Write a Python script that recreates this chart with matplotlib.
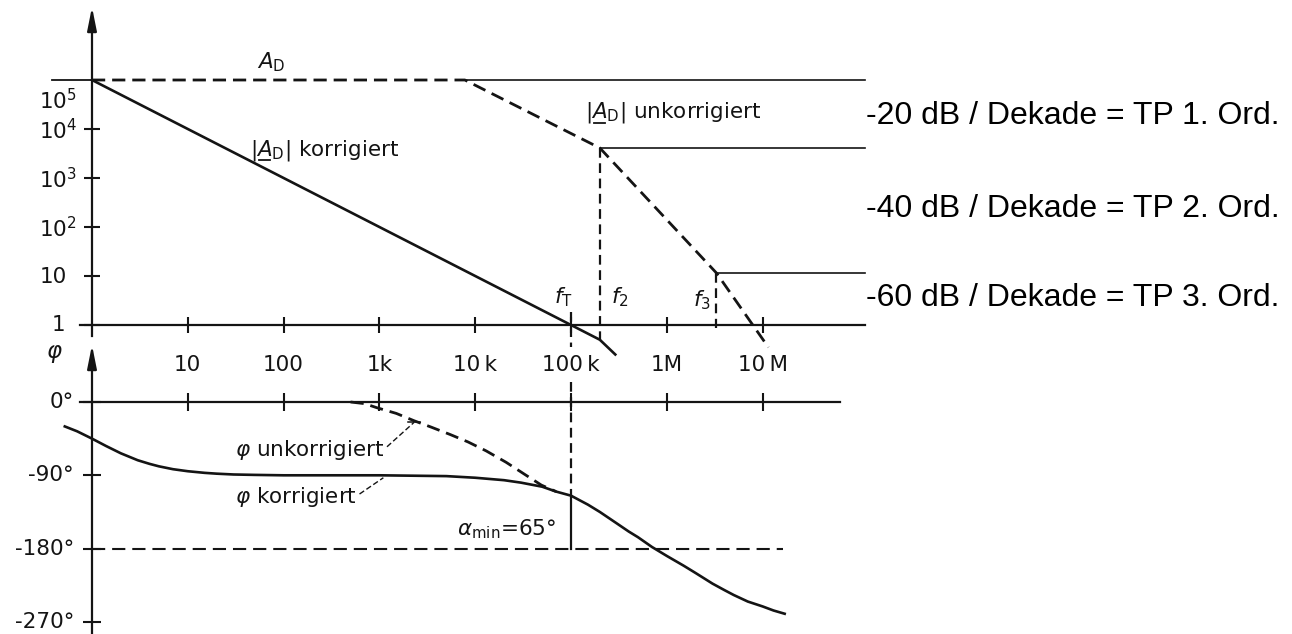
import matplotlib
matplotlib.use("Agg")
import matplotlib.pyplot as plt
from matplotlib.ticker import NullLocator
from matplotlib.transforms import ScaledTranslation

plt.rcParams.update({
    "font.family": "DejaVu Sans",
    "mathtext.fontset": "dejavusans",
    "lines.scale_dashes": False,
    "axes.unicode_minus": False,
})

# ---------------- data ----------------
freq_ticks = [1e1, 1e2, 1e3, 1e4, 1e5, 1e6, 1e7]
freq_labels = ["10", "100", "1k", "10\u2009k", "100\u2009k", "1M", "10\u2009M"]

mag_ticks = [1, 1e1, 1e2, 1e3, 1e4]
mag_labels = ["1", "10", r"$\mathregular{10^2}$", r"$\mathregular{10^3}$",
              r"$\mathregular{10^4}$"]
A_D = 1e5
A_D_label = r"$\mathregular{10^5}$"

phase_ticks = [0, -90, -180, -270]
phase_labels = ["0°", "-90°", "-180°", "-270°"]

# corner / transit frequencies and open-loop gain at the corners
f_1 = 7.8e3
f_T = 1e5
f_2 = 2.0e5
f_3 = 3.3e6
A_f2 = 4.1e3
A_f3 = 11.5

# |A_D| uncompensated (asymptotes, dashed)
mag_unc_f = [1, f_1, f_2, f_3, 1.15e7]
mag_unc_A = [A_D, A_D, A_f2, A_f3, 0.35]

# |A_D| compensated (solid)
mag_cor_f = [1, f_T, f_2, 2.9e5]
mag_cor_A = [A_D, 1, 0.5, 0.25]

# phase, compensated (solid)
ph_cor_f = [0.52, 0.7, 1, 1.4, 2, 3, 4, 5, 7, 10, 15, 20, 30, 50, 100,
            1e3, 5e3, 1e4, 2e4, 3e4, 5e4, 7e4, 1e5, 1.5e5, 2e5, 3e5, 4e5,
            5e5, 7e5, 1e6, 1.5e6, 2e6, 3e6, 4e6, 5e6, 7e6, 1e7, 1.3e7, 1.7e7]
ph_cor = [-30, -36, -45, -54, -63, -71.5, -76, -79, -82.5, -85, -87, -88,
          -89, -89.5, -90, -90, -91, -93, -96, -99, -104, -110, -115, -126,
          -135, -149, -159, -166, -178, -189, -201, -210, -223, -231, -237,
          -245, -251, -256, -260]

# phase, uncompensated (dashed)
ph_unc_f = [5e2, 7e2, 9.4e2, 1.5e3, 2.3e3, 3.5e3, 5.5e3, 8.4e3, 1.3e4,
            2.1e4, 3.3e4, 4.9e4, 7e4]
ph_unc = [0, -2, -7, -14, -23, -31, -40, -49, -60, -74, -89, -102, -110]

phase_margin = 65
phi_at_fT = -180 + phase_margin

slope_notes = ["-20 dB / Dekade = TP 1. Ord.",
               "-40 dB / Dekade = TP 2. Ord.",
               "-60 dB / Dekade = TP 3. Ord."]

# ---------------- layout ----------------
W, H, DPI = 1292, 634, 100
X_F1 = 92          # pixel column of f = 1 Hz
PX_DEC = 95.8      # pixels per frequency decade
Y_A1 = 325         # pixel row of |A| = 1
PX_DEC_A = 49      # pixels per gain decade
Y_PH0 = 402        # pixel row of phi = 0
PX_DEG = 73.3 / 90 # pixels per degree

ink = "#141414"
FS = 15.5
AD_TEX = r"$|A_{\rm D}|$"

fig = plt.figure(figsize=(W / DPI, H / DPI), dpi=DPI)
fig.patch.set_facecolor("white")


def offset_segment(ax, x, y, p0, p1, lw=1.3):
    """Short stroke given by pixel offsets (p0, p1) from a data anchor."""
    inv = ax.transData.inverted()
    pts = []
    for dx, dy in (p0, p1):
        t = ax.transData + ScaledTranslation(dx / DPI, dy / DPI, fig.dpi_scale_trans)
        pts.append(inv.transform(t.transform((x, y))))
    ax.plot([pts[0][0], pts[1][0]], [pts[0][1], pts[1][1]], color=ink, lw=lw,
            clip_on=False)


ax_m = fig.add_axes([0, 0, 1, 1])
ax_p = fig.add_axes([0, 0, 1, 1])
for ax in (ax_m, ax_p):
    ax.set_xscale("log")
    ax.set_xlim(10 ** (-X_F1 / PX_DEC), 10 ** ((W - X_F1) / PX_DEC))
    ax.patch.set_alpha(0)
    for s in ("top", "right"):
        ax.spines[s].set_visible(False)
    ax.xaxis.set_minor_locator(NullLocator())
    ax.yaxis.set_minor_locator(NullLocator())

ax_m.set_yscale("log")
ax_m.set_ylim(10 ** (-(H - Y_A1) / PX_DEC_A), 10 ** (Y_A1 / PX_DEC_A))
ax_p.set_ylim(-(H - Y_PH0) / PX_DEG, Y_PH0 / PX_DEG)

f_left = 10 ** (-12 / PX_DEC)
f_right = 10 ** (773 / PX_DEC)
f_ph_right = 10 ** (748 / PX_DEC)

# ---- magnitude axes ----
ax_m.spines["left"].set_position(("data", 1))
ax_m.spines["bottom"].set_position(("data", 1))
ax_m.spines["left"].set_bounds(10 ** (-11 / PX_DEC_A), 10 ** (300 / PX_DEC_A))
ax_m.spines["bottom"].set_bounds(f_left, f_right)
for s in ("left", "bottom"):
    ax_m.spines[s].set_linewidth(1.6)
    ax_m.spines[s].set_color(ink)
ax_m.set_xticks(freq_ticks)
ax_m.set_xticklabels([])
ax_m.set_yticks(mag_ticks)
ax_m.set_yticklabels([])
ax_m.tick_params(direction="inout", length=12, width=1.5, color=ink)
ax_m.annotate("", xy=(1, 10 ** (318 / PX_DEC_A)), xytext=(1, 10 ** (298 / PX_DEC_A)),
              arrowprops=dict(arrowstyle="-|>,head_length=1.4,head_width=0.28",
                              color=ink, lw=1.6, shrinkA=0, shrinkB=0,
                              mutation_scale=10))

# frequency labels between the two diagrams
for f, lab in zip(freq_ticks, freq_labels):
    ax_m.annotate(lab, xy=(f, 1), xytext=(0, -29), textcoords="offset points",
                  ha="center", va="center", fontsize=FS, color=ink)
# gain labels
for a, lab in zip(mag_ticks, mag_labels):
    if lab == "1":
        ax_m.annotate(lab, xy=(1, a), xytext=(-19, 0), textcoords="offset points",
                      ha="right", va="center", fontsize=FS, color=ink)
    else:
        ax_m.annotate(lab, xy=(1, a), xytext=(-38, -1), textcoords="offset points",
                      ha="left", va="center", fontsize=FS, color=ink)
ax_m.annotate(A_D_label, xy=(1, A_D), xytext=(-38, -15), textcoords="offset points",
              ha="left", va="center", fontsize=FS, color=ink)

# A_D reference line (solid where it is not part of the dashed curve)
ax_m.plot([10 ** (-40 / PX_DEC), 1], [A_D, A_D], color=ink, lw=1.3)
ax_m.plot([f_1, f_right], [A_D, A_D], color=ink, lw=1.2, clip_on=False)
ax_m.plot([f_2, f_right], [A_f2, A_f2], color=ink, lw=1.2)
ax_m.plot([f_3, f_right], [A_f3, A_f3], color=ink, lw=1.2)

dash = (0, (9.5, 5))
ax_m.plot(mag_unc_f, mag_unc_A, color=ink, lw=2.0, ls=dash, clip_on=False)
ax_m.plot(mag_cor_f, mag_cor_A, color=ink, lw=1.9, clip_on=False)

vdash = (0, (7, 4))
ax_m.plot([f_2, f_2], [A_f2, 0.5], color=ink, lw=1.6, ls=vdash)
ax_m.plot([f_3, f_3], [A_f3, 0.87], color=ink, lw=1.6, ls=vdash)
ax_m.plot([f_T, f_T], [1.8, 0.35], color=ink, lw=1.6, ls=vdash)

ax_m.text(75, 2.3e5, r"$A_{\rm D}$", fontsize=FS, ha="center", va="center", color=ink)
label_spots = [(45, 10 ** 3.57, " korrigiert"), (1.4e5, 10 ** 4.33, " unkorrigiert")]
for fx, ay, word in label_spots:
    ax_m.text(fx, ay, AD_TEX + word, fontsize=FS, ha="left", va="center", color=ink)
    offset_segment(ax_m, fx, ay, (9, -10), (20, -10))
ax_m.text(8.3e4, 10 ** 0.57, r"$f_{\rm T}$", fontsize=FS, ha="center", va="center", color=ink)
ax_m.text(3.2e5, 10 ** 0.57, r"$f_2$", fontsize=FS, ha="center", va="center", color=ink)
ax_m.text(2.3e6, 10 ** 0.5, r"$f_3$", fontsize=FS, ha="center", va="center", color=ink)

# ---- phase axes ----
ax_p.spines["left"].set_position(("data", 1))
ax_p.spines["bottom"].set_position(("data", 0))
ax_p.spines["left"].set_bounds(-300, 50)
ax_p.spines["bottom"].set_bounds(f_left, f_ph_right)
for s in ("left", "bottom"):
    ax_p.spines[s].set_linewidth(1.6)
    ax_p.spines[s].set_color(ink)
ax_p.set_xticks(freq_ticks)
ax_p.set_xticklabels([])
ax_p.set_yticks(phase_ticks)
ax_p.set_yticklabels([])
ax_p.tick_params(direction="inout", length=13, width=1.5, color=ink)
ax_p.annotate("", xy=(1, 70), xytext=(1, 46),
              arrowprops=dict(arrowstyle="-|>,head_length=1.4,head_width=0.28",
                              color=ink, lw=1.6, shrinkA=0, shrinkB=0,
                              mutation_scale=10))
ax_p.text(0.41, 60, r"$\varphi$", fontsize=FS + 1, ha="center", va="center",
          color=ink)
for p, lab in zip(phase_ticks, phase_labels):
    ax_p.annotate(lab, xy=(1, p), xytext=(-13, 0), textcoords="offset points",
                  ha="right", va="center", fontsize=FS, color=ink)

ax_p.plot([1, 10 ** (691 / PX_DEC)], [-180, -180], color=ink, lw=1.5, ls=dash)
ax_p.plot(ph_unc_f, ph_unc, color=ink, lw=2.0, ls=dash)
ax_p.plot(ph_cor_f, ph_cor, color=ink, lw=1.9, clip_on=False)

ax_p.plot([f_T, f_T], [25, phi_at_fT], color=ink, lw=1.6, ls=vdash)
ax_p.plot([f_T, f_T], [phi_at_fT, -180], color=ink, lw=1.6)
ax_p.text(6.5e3, -156, r"$\alpha_{\rm min}$=%d°" % phase_margin, fontsize=FS,
          ha="left", va="center", color=ink)

ax_p.text(31, -59, r"$\varphi$ unkorrigiert", fontsize=FS, ha="left", va="center",
          color=ink)
ax_p.text(31, -117, r"$\varphi$ korrigiert", fontsize=FS, ha="left", va="center",
          color=ink)
ax_p.plot([1.2e3, 2.3e3], [-55, -25], color=ink, lw=1.0, ls=(0, (4, 2)))
offset_segment(ax_p, 2.3e3, -25, (-6, 0), (6, 0), lw=1.1)
ax_p.plot([620, 1.1e3], [-113, -93], color=ink, lw=1.0, ls=(0, (4, 2)))

# ---- slope notes ----
for y_px, note in zip([116, 209, 298], slope_notes):
    fig.text(866 / W, 1 - y_px / H, note, fontsize=23, family="Liberation Sans",
             ha="left", va="center", color="black")

fig.savefig("out.png", dpi=DPI, facecolor="white")
